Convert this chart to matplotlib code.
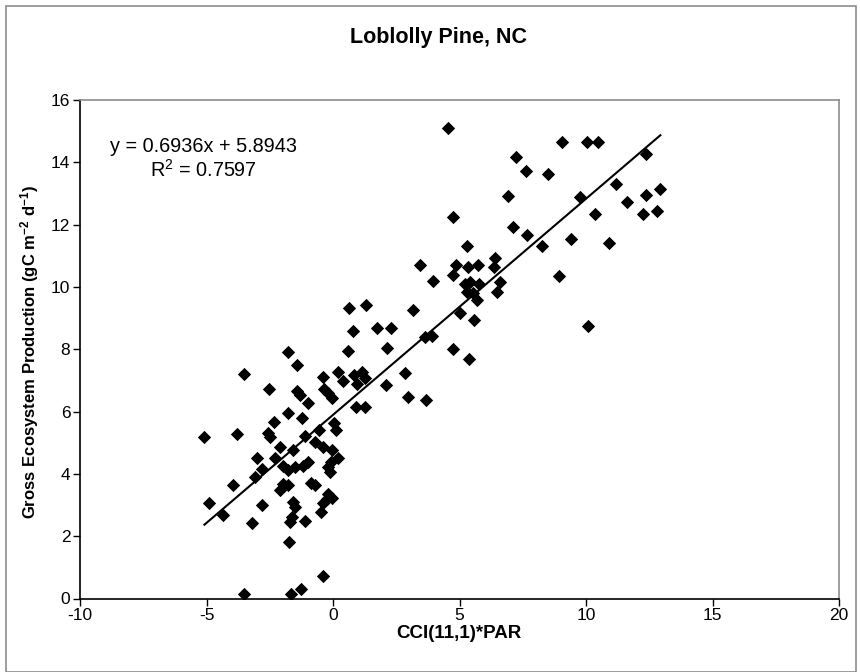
import matplotlib
matplotlib.use("Agg")
import matplotlib.pyplot as plt
from matplotlib.patches import Rectangle

plt.rcParams['font.family'] = ['Liberation Sans', 'DejaVu Sans']
plt.rcParams['mathtext.default'] = 'regular'
plt.rcParams['axes.unicode_minus'] = False

title = "Loblolly Pine, NC"
xlabel = "CCI(11,1)*PAR"
ylabel = "Gross Ecosystem Production (gC m$^{-2}$ d$^{-1}$)"
equation = "y = 0.6936x + 5.8943"
r2_text = "R$^{2}$ = 0.7597"
slope = 0.6936
intercept = 5.8943
xticks = [-10, -5, 0, 5, 10, 15, 20]
yticks = [0, 2, 4, 6, 8, 10, 12, 14, 16]

x = [4.55, 9.05, 10.04, 10.46, 7.22, 12.38, 7.62, 8.5, 11.17, 12.94, 12.38, 6.9,
     9.75, 11.63, 12.8, 12.25, 10.36, 4.75, 7.12, 7.67, 9.42, 10.9, 8.26, 5.28,
     8.92, 10.08, 6.4, 3.43, 4.86, 5.32, 5.74, 6.36, 4.75, 3.94, 6.59, 6.49,
     5.21, 5.41, 5.78, 5.28, 5.54, 5.7, 5.01, 5.57, 3.63, 3.9, 4.75, 5.37,
     0.63, 1.3, 3.17, 0.78, 1.75, 2.28, 0.58, 2.12, 2.84, -0.41,
     0.21, 0.38, 0.82, 0.95, 1.15, 1.26,
     2.09, -0.36, -0.19, -0.03, 2.97, 3.67, -0.97, 0.91, 1.26, -1.24, 0.03, 0.13,
     -1.1, -0.56, -0.71, -0.38, -0.05, 0.21,
     -1.79, -1.43, -3.5, -2.53, -1.43, -1.3, -1.79, -2.32, -5.08, -3.8, -2.55,
     -2.49, -2.09, -1.57, -3.01, -2.29, -2.81, -3.08, -1.96, -1.78, -1.5, -1.2,
     -0.98, -0.19, -0.08, -0.12, -3.94, -1.96, -1.76, -2.09, -0.87, -0.71,
     -0.19, -0.25, -0.38, -0.05, -4.9, -2.81, -1.57, -1.5, -4.33, -0.47, -1.63,
     -1.7, -3.21, -1.1, -1.72, -0.38, -3.5, -1.66, -1.26]
y = [15.09, 14.66, 14.64, 14.64, 14.18, 14.26, 13.72, 13.63, 13.3, 13.13, 12.95, 12.92,
     12.88, 12.72, 12.44, 12.33, 12.33, 12.25, 11.91, 11.66, 11.54, 11.4, 11.32, 11.32,
     10.36, 8.76, 10.92, 10.7, 10.7, 10.63, 10.7, 10.63, 10.38, 10.19, 10.17, 9.85,
     10.1, 10.15, 10.1, 9.84, 9.79, 9.58, 9.17, 8.94, 8.4, 8.42, 8.0, 7.7,
     9.31, 9.42, 9.26, 8.6, 8.68, 8.68, 7.95, 8.03, 7.25, 7.1,
     7.28, 6.98, 7.18, 6.88, 7.27, 7.08,
     6.85, 6.74, 6.58, 6.45, 6.47, 6.37, 6.26, 6.15, 6.15, 5.78, 5.62, 5.41,
     5.21, 5.4, 5.03, 4.87, 4.78, 4.52,
     7.92, 7.49, 7.19, 6.71, 6.67, 6.53, 5.94, 5.67, 5.17, 5.27, 5.32,
     5.19, 4.85, 4.78, 4.5, 4.5, 4.17, 3.9, 4.26, 4.12, 4.23, 4.26,
     4.37, 4.23, 4.39, 4.07, 3.64, 3.69, 3.64, 3.48, 3.71, 3.64,
     3.37, 3.18, 3.05, 3.24, 3.05, 3.0, 3.1, 2.94, 2.67, 2.78, 2.62,
     2.46, 2.43, 2.48, 1.8, 0.73, 0.16, 0.14, 0.29]

fig = plt.figure(figsize=(8.6, 6.72), dpi=100)
fig.patch.set_facecolor('white')
ax = fig.add_axes([80/860, 1 - 598.5/672, (839-80)/860, (598.5-100)/672])

ax.scatter(x, y, marker='D', s=46, color='black', linewidths=0, zorder=3)
xl = [min(x), max(x)]
ax.plot(xl, [slope * v + intercept for v in xl], color='black', lw=1.5, zorder=2)

ax.set_xlim(-10, 20)
ax.set_ylim(0, 16)
ax.set_xticks(xticks)
ax.set_yticks(yticks)
ax.tick_params(direction='out', length=5, width=1, labelsize=12.5, colors='black', pad=2)
for s in ['left', 'bottom']:
    ax.spines[s].set_color('black')
    ax.spines[s].set_linewidth(1.2)
for s in ['top', 'right']:
    ax.spines[s].set_color('#8c8c8c')
    ax.spines[s].set_linewidth(1.2)

fig.text(459/860, 1 - 634/672, xlabel, ha='center', va='center', fontsize=13.5, fontweight='bold')
fig.text(30/860, 1 - 352/672, ylabel, ha='center', va='center', rotation=90,
         fontsize=12, fontweight='bold')
fig.text(438/860, 1 - 37/672, title, ha='center', va='center', fontsize=15.5, fontweight='bold')

fig.text(204/860, 1 - 147/672, equation, ha='center', va='center', fontsize=14.3)
fig.text(203/860, 1 - 170/672, r2_text, ha='center', va='center', fontsize=14.3)

fig.patches.append(Rectangle((6/860, 0), (856-6)/860, 1 - 6/672, transform=fig.transFigure,
                             fill=False, edgecolor='#8c8c8c', lw=1.2))

fig.savefig('out.png', dpi=100)
